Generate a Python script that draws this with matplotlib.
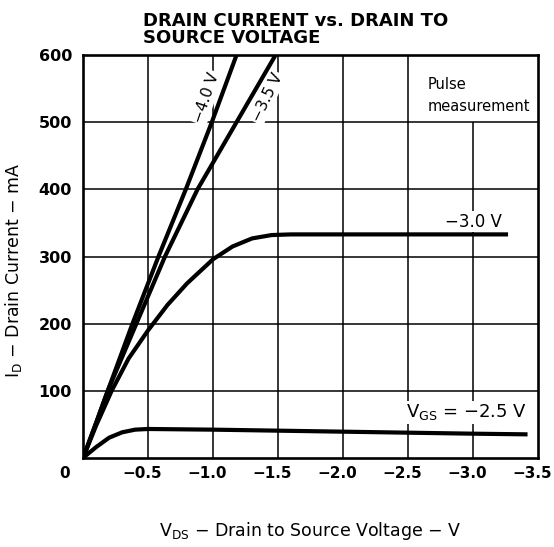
import matplotlib
matplotlib.use('Agg')
import matplotlib.pyplot as plt
from matplotlib.transforms import ScaledTranslation

# drain-source voltage (V) / drain current (mA) per gate voltage
vds_40 = [0, -0.10, -0.19, -0.38, -0.58, -0.79, -0.99, -1.18]
id_40 = [0, 52, 100, 200, 300, 400, 500, 600]

vds_35 = [0, -0.10, -0.19, -0.41, -0.63, -0.88, -1.18, -1.48]
id_35 = [0, 52, 100, 200, 300, 400, 500, 600]

vds_30 = [0, -0.10, -0.22, -0.35, -0.50, -0.65, -0.80, -1.00, -1.15, -1.30, -1.45, -1.60, -3.27]
id_30 = [0, 48, 100, 148, 190, 228, 260, 296, 315, 327, 332, 333, 333]

vds_25 = [0, -0.10, -0.20, -0.30, -0.40, -0.50, -1.00, -2.00, -3.00, -3.42]
id_25 = [0, 16, 30, 38, 42, 43, 42, 39, 36, 35]

xticks = [0, -0.5, -1.0, -1.5, -2.0, -2.5, -3.0, -3.5]
xlabels = ['', '\u22120.5', '\u22121.0', '\u22121.5', '\u22122.0', '\u22122.5', '\u22123.0', '\u22123.5']
yticks = [0, 100, 200, 300, 400, 500, 600]
ylabels = ['', '100', '200', '300', '400', '500', '600']

fig = plt.figure(figsize=(5.54, 5.47), dpi=100)
ax = fig.add_axes([0.150, 0.163, 0.821, 0.736])
ax.set_xlim(0, -3.5)
ax.set_ylim(0, 600)

# grid drawn by hand, the -3.0 line stops under the "Pulse measurement" box
for x in xticks[1:-1]:
    top = 500 if x == -3.0 else 600
    ax.vlines(x, 0, top, color='black', lw=1.1, zorder=1)
for y in yticks[1:-1]:
    ax.hlines(y, 0, -3.5, color='black', lw=1.1, zorder=1)

for s in ax.spines.values():
    s.set_linewidth(1.9)

lw = 3.0
ax.plot(vds_40, id_40, color='black', lw=lw, zorder=4, solid_capstyle='butt')
ax.plot(vds_35, id_35, color='black', lw=lw, zorder=4, solid_capstyle='butt')
ax.plot(vds_30, id_30, color='black', lw=lw, zorder=4, solid_capstyle='butt')
ax.plot(vds_25, id_25, color='black', lw=lw, zorder=4, solid_capstyle='butt')

ax.set_xticks(xticks)
ax.set_xticklabels(xlabels, fontsize=11, fontweight='bold')
ax.set_yticks(yticks)
ax.set_yticklabels(ylabels, fontsize=11.5, fontweight='bold')
ax.tick_params(axis='x', length=0, pad=6)
ax.tick_params(axis='y', length=0, pad=8)
shift = ScaledTranslation(-6 / 100, 0, fig.dpi_scale_trans)
for lab in ax.get_xticklabels():
    lab.set_transform(lab.get_transform() + shift)
ax.text(-0.03, -0.02, '0', transform=ax.transAxes, ha='right', va='top',
        fontsize=11, fontweight='bold')

box = dict(fc='white', ec='none', pad=1)
ax.text(-0.95, 537, '\u22124.0 V', rotation=71, ha='center', va='center',
        fontsize=11, bbox=box, zorder=3)
ax.text(-1.415, 537, '\u22123.5 V', rotation=64, ha='center', va='center',
        fontsize=11, bbox=box, zorder=3)
ax.text(-2.65, 540, 'Pulse\nmeasurement', ha='left', va='center',
        fontsize=10.5, linespacing=1.6, zorder=3)
ax.text(-3.0, 352, '\u22123.0 V', ha='center', va='center',
        fontsize=12, bbox=box, zorder=3)
ax.text(-2.95, 68, 'V$_{\\mathrm{GS}}$ = \u22122.5 V', ha='center', va='center',
        fontsize=13, bbox=box, zorder=3)

ax.set_ylabel('I$_{\\mathrm{D}}$ \u2212 Drain Current \u2212 mA', fontsize=12.5)
ax.yaxis.set_label_coords(-0.13, 0.466)
ax.set_xlabel('V$_{\\mathrm{DS}}$ \u2212 Drain to Source Voltage \u2212 V', fontsize=12.5, labelpad=28)

fig.text(0.258, 0.978, 'DRAIN CURRENT vs. DRAIN TO\nSOURCE VOLTAGE', ha='left', va='top',
         fontsize=13, fontweight='bold', linespacing=0.95)

fig.savefig('out.png', dpi=100)
